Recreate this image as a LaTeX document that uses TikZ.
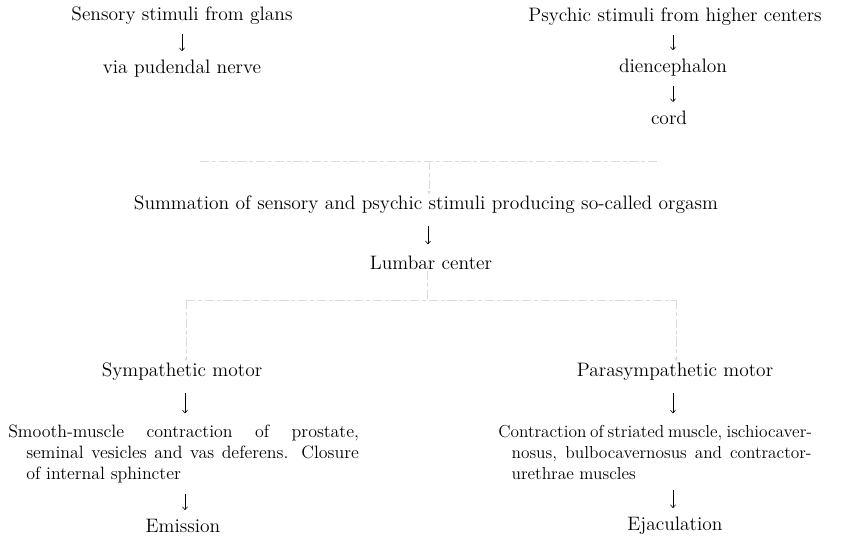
\documentclass[tikz,border=0pt]{standalone}
\usetikzlibrary{arrows.meta}

\tikzset{
  txt/.style={inner sep=0.75pt, font=\fontsize{14.6}{15.75}\selectfont},
  para/.style={inner sep=0.75pt, anchor=north west, align=left, font=\fontsize{13.4}{15.75}\selectfont},
  flow/.style={-{To[length=2.6pt,width=4.2pt]}, line width=0.45pt},
  faint/.style={color=black!14, line width=0.7pt, dash pattern=on 7pt off 2pt on 3pt off 2pt},
  fainttip/.style={faint, -{Latex[length=3pt,width=2.6pt]}},
}

\begin{document}
\begin{tikzpicture}[x=0.75pt,y=0.75pt,yscale=-1,xscale=1]
\useasboundingbox (0,0) rectangle (859,539);

% upper branches
\node[txt] (sensory) at (182,16) {Sensory stimuli from glans};
\node[txt] (pudendal) at (182,69) {via pudendal nerve};
\node[txt] (psychic) at (675,17) {Psychic stimuli from higher centers};
\node[txt] (dienc) at (673,68) {diencephalon};
\node[txt] (cord) at (669,118) {cord};

% summation
\node[txt] (summ) at (426,205) {Summation of sensory and psychic stimuli producing so-called orgasm};
\node[txt] (lumbar) at (431,263) {Lumbar center};

% motor branches
\node[txt] (symp) at (182,372) {Sympathetic motor};
\node[txt] (parasymp) at (675,372) {Parasympathetic motor};

\node[para] (smooth) at (7,424)
  {\makebox[263pt][s]{Smooth-muscle contraction of prostate,}\\
   \hspace*{13.5pt}\makebox[249.5pt][s]{seminal vesicles and vas deferens. Closure}\\
   \hspace*{13.5pt}of internal sphincter};
\node[para, font=\fontsize{13}{15.75}\selectfont] (striated) at (497,424)
  {\makebox[235pt][s]{Contraction of striated muscle, ischiocaver-}\\
   \hspace*{10pt}\makebox[225pt][s]{nosus, bulbocavernosus and contractor-}\\
   \hspace*{10pt}urethrae muscles};

\node[txt] (emission) at (183,526) {Emission};
\node[txt] (ejac) at (675,526) {Ejaculation};

% arrows
\draw[flow, shorten <=6pt, shorten >=6pt] (sensory.south) -- (sensory.south |- pudendal.north);
\draw[flow, shorten <=6pt, shorten >=6pt] (dienc.north |- psychic.south) -- (dienc.north);
\draw[flow, shorten <=6pt, shorten >=6pt] (dienc.south) -- (dienc.south |- cord.north);
\draw[flow, shorten <=8pt, shorten >=8pt] (summ.south -| 428,0) -- (428,0 |- lumbar.north);
\draw[flow, shorten <=8pt, shorten >=8pt] (symp.south -| 185,0) -- (185,0 |- smooth.north);
\draw[flow, shorten <=8pt, shorten >=8pt] (parasymp.south -| 673,0) -- (673,0 |- striated.north);
\draw[flow, shorten <=7pt, shorten >=6pt] (185,0 |- smooth.south) -- (185,0 |- emission.north);
\draw[flow, shorten <=7pt, shorten >=6pt] (673,0 |- striated.south) -- (673,0 |- ejac.north);

% faded joining lines
\coordinate (top-l) at (200,161);
\coordinate (top-r) at (660,161);
\coordinate (top-m) at (429,161);
\draw[faint] (top-l) -- (top-r);
\draw[fainttip] (top-m) -- (top-m |- summ.north);

\coordinate (low-m) at (427,300);
\coordinate (low-l) at (186,300);
\coordinate (low-r) at (676,300);
\draw[faint] (low-m |- lumbar.south) -- (low-m);
\draw[faint] (low-l) -- (low-r);
\draw[fainttip] (low-l) -- (low-l |- symp.north);
\draw[fainttip] (low-r) -- (low-r |- parasymp.north);

\end{tikzpicture}
\end{document}
